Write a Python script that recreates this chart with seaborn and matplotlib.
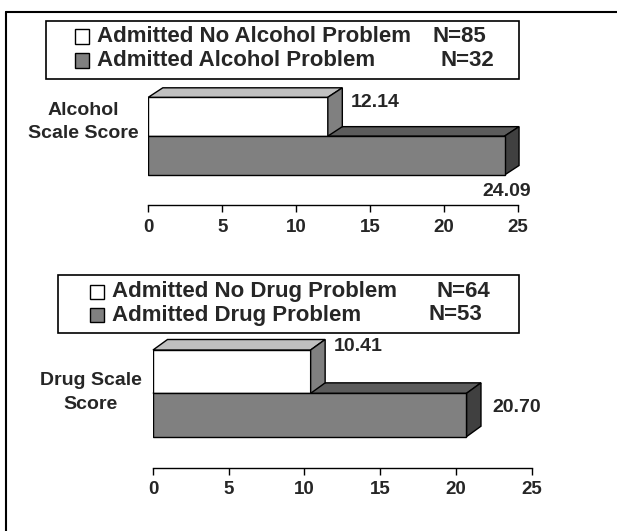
import matplotlib
matplotlib.use("Agg")
import numpy as np
import pandas as pd
import matplotlib.pyplot as plt
import seaborn as sns
from matplotlib.patches import Polygon, Rectangle
from matplotlib.lines import Line2D

# Chart data
alcohol_label = "Alcohol\nScale Score"
alcohol_groups = ["Admitted No Alcohol Problem", "Admitted Alcohol Problem"]
alcohol_n = [85, 32]
alcohol_scores = [12.14, 24.09]

drug_label = "Drug Scale\nScore"
drug_groups = ["Admitted No Drug Problem", "Admitted Drug Problem"]
drug_n = [64, 53]
drug_scores = [10.41, 20.70]

x_ticks = [0, 5, 10, 15, 20, 25]

# Colours: front face, top face, side face for each group
front_colors = ["#ffffff", "#808080"]
top_colors = ["#c0c0c0", "#5c5c5c"]
side_colors = ["#808080", "#404040"]

sns.set_style("white")
plt.rcParams["font.family"] = ["Liberation Sans", "DejaVu Sans"]
plt.rcParams["font.weight"] = "bold"

W, H = 617, 531
fig = plt.figure(figsize=(W / 100, H / 100), dpi=100)


def fx(px):
    return px / W


def fy(py):
    return 1 - py / H


def draw_panel(cat_label, groups, n_values, scores, geo):
    left, right, top, axis_y = geo["axes"]
    bar_top, bar_bottom = geo["bars"]
    mid = (bar_top + bar_bottom) / 2
    ax = fig.add_axes([fx(left), fy(axis_y), (right - left) / W, (axis_y - top) / H])

    df = pd.DataFrame({"scale": [cat_label] * len(groups), "group": groups, "score": scores})
    sns.barplot(data=df, x="score", y="scale", hue="group", hue_order=groups,
                palette=front_colors, orient="h", width=0.8, edgecolor="black",
                linewidth=1, errorbar=None, legend=False, ax=ax, zorder=2)

    ppu = (bar_bottom - bar_top) / 0.8
    ax.set_ylim((axis_y - mid) / ppu, (top - mid) / ppu)
    ax.set_xlim(0, 25)
    ax.set_xticks(x_ticks)
    ax.set_xticklabels([str(t) for t in x_ticks])
    ax.set_yticks([])
    ax.set_xlabel("")
    ax.set_ylabel("")
    for s in ["left", "top", "right"]:
        ax.spines[s].set_visible(False)
    ax.spines["bottom"].set_color("black")
    ax.spines["bottom"].set_linewidth(1)
    ax.tick_params(axis="x", length=5, width=1, direction="out", color="black",
                   labelsize=13.5, pad=5, bottom=True)
    for lab in ax.get_xticklabels():
        lab.set_fontweight("bold")
    ax.patch.set_alpha(0)

    # 3D top and side faces
    dx, dy = geo["depth"]
    d = np.array([dx, dy])
    inv = ax.transData.inverted()
    bars = sorted(ax.patches, key=lambda p: p.get_y())
    for i, p in enumerate(bars):
        x0, w, y0, h = p.get_x(), p.get_width(), p.get_y(), p.get_height()
        tl = ax.transData.transform((x0, y0))
        tr = ax.transData.transform((x0 + w, y0))
        br = ax.transData.transform((x0 + w, y0 + h))
        z = 1 if i == 1 else 3
        top_face = inv.transform(np.array([tl, tr, tr + d, tl + d]))
        side_face = inv.transform(np.array([tr, br, br + d, tr + d]))
        ax.add_patch(Polygon(top_face, closed=True, facecolor=top_colors[i],
                             edgecolor="black", lw=1, zorder=z, clip_on=False))
        ax.add_patch(Polygon(side_face, closed=True, facecolor=side_colors[i],
                             edgecolor="black", lw=1, zorder=z, clip_on=False))

    # value labels
    for i, v in enumerate(scores):
        yref, ox, oy = geo["labels"][i]
        ax.annotate(f"{v:.2f}", xy=(v, yref), xytext=(ox, oy), textcoords="offset pixels",
                    ha="left", va="center", fontsize=14, fontweight="bold",
                    annotation_clip=False)

    # category label
    cx, cy = geo["cat"]
    ax.annotate(cat_label, xy=(0, 0), xytext=(cx, cy), textcoords="offset pixels",
                ha="center", va="center", multialignment="center", fontsize=14,
                fontweight="bold", linespacing=1.5, annotation_clip=False)

    # legend box
    bl, bt, br_, bb = geo["legend_box"]
    fig.add_artist(Rectangle((fx(bl), fy(bb)), (br_ - bl) / W, (bb - bt) / H,
                             transform=fig.transFigure, fill=False, ec="black", lw=1.2))
    sq_x, txt_x = geo["legend_x"]
    for i, g in enumerate(groups):
        row = geo["legend_rows"][i]
        fig.add_artist(Rectangle((fx(sq_x), fy(row + 7)), 14 / W, 14 / H,
                                 transform=fig.transFigure, facecolor=front_colors[i],
                                 ec="black", lw=1))
        fig.text(fx(txt_x), fy(row), g, ha="left", va="center", fontsize=16, fontweight="bold")
        fig.text(fx(geo["n_x"][i]), fy(row), f"N={n_values[i]}", ha="left", va="center",
                 fontsize=16, fontweight="bold")
    return ax


top_geo = {
    "axes": (148.3, 518, 85, 205),
    "bars": (97.3, 175),
    "depth": (14.5, 9.5),
    "labels": [(-0.4, 22.7, -5.4), (0.4, -21.8, -17)],
    "cat": (-65, 14),
    "legend_box": (46, 21, 519, 79),
    "legend_x": (75, 97),
    "legend_rows": [36.5, 60.5],
    "n_x": [433, 440],
}

bottom_geo = {
    "axes": (153, 531.6, 340, 467.5),
    "bars": (350, 436.7),
    "depth": (14.5, 10.5),
    "labels": [(-0.4, 23.3, 3.3), (0.2, 26.3, 8)],
    "cat": (-62.5, 1),
    "legend_box": (57.7, 275, 519, 333),
    "legend_x": (90, 112),
    "legend_rows": [291.5, 315],
    "n_x": [437, 429],
}

draw_panel(alcohol_label, alcohol_groups, alcohol_n, alcohol_scores, top_geo)
draw_panel(drug_label, drug_groups, drug_n, drug_scores, bottom_geo)

# outer frame (left and top edges visible)
fig.add_artist(Line2D([fx(6), fx(6)], [fy(12), 0], transform=fig.transFigure, color="black", lw=1.5))
fig.add_artist(Line2D([fx(6), 1], [fy(12), fy(12)], transform=fig.transFigure, color="black", lw=1.5))

fig.savefig("out.png", dpi=100)
